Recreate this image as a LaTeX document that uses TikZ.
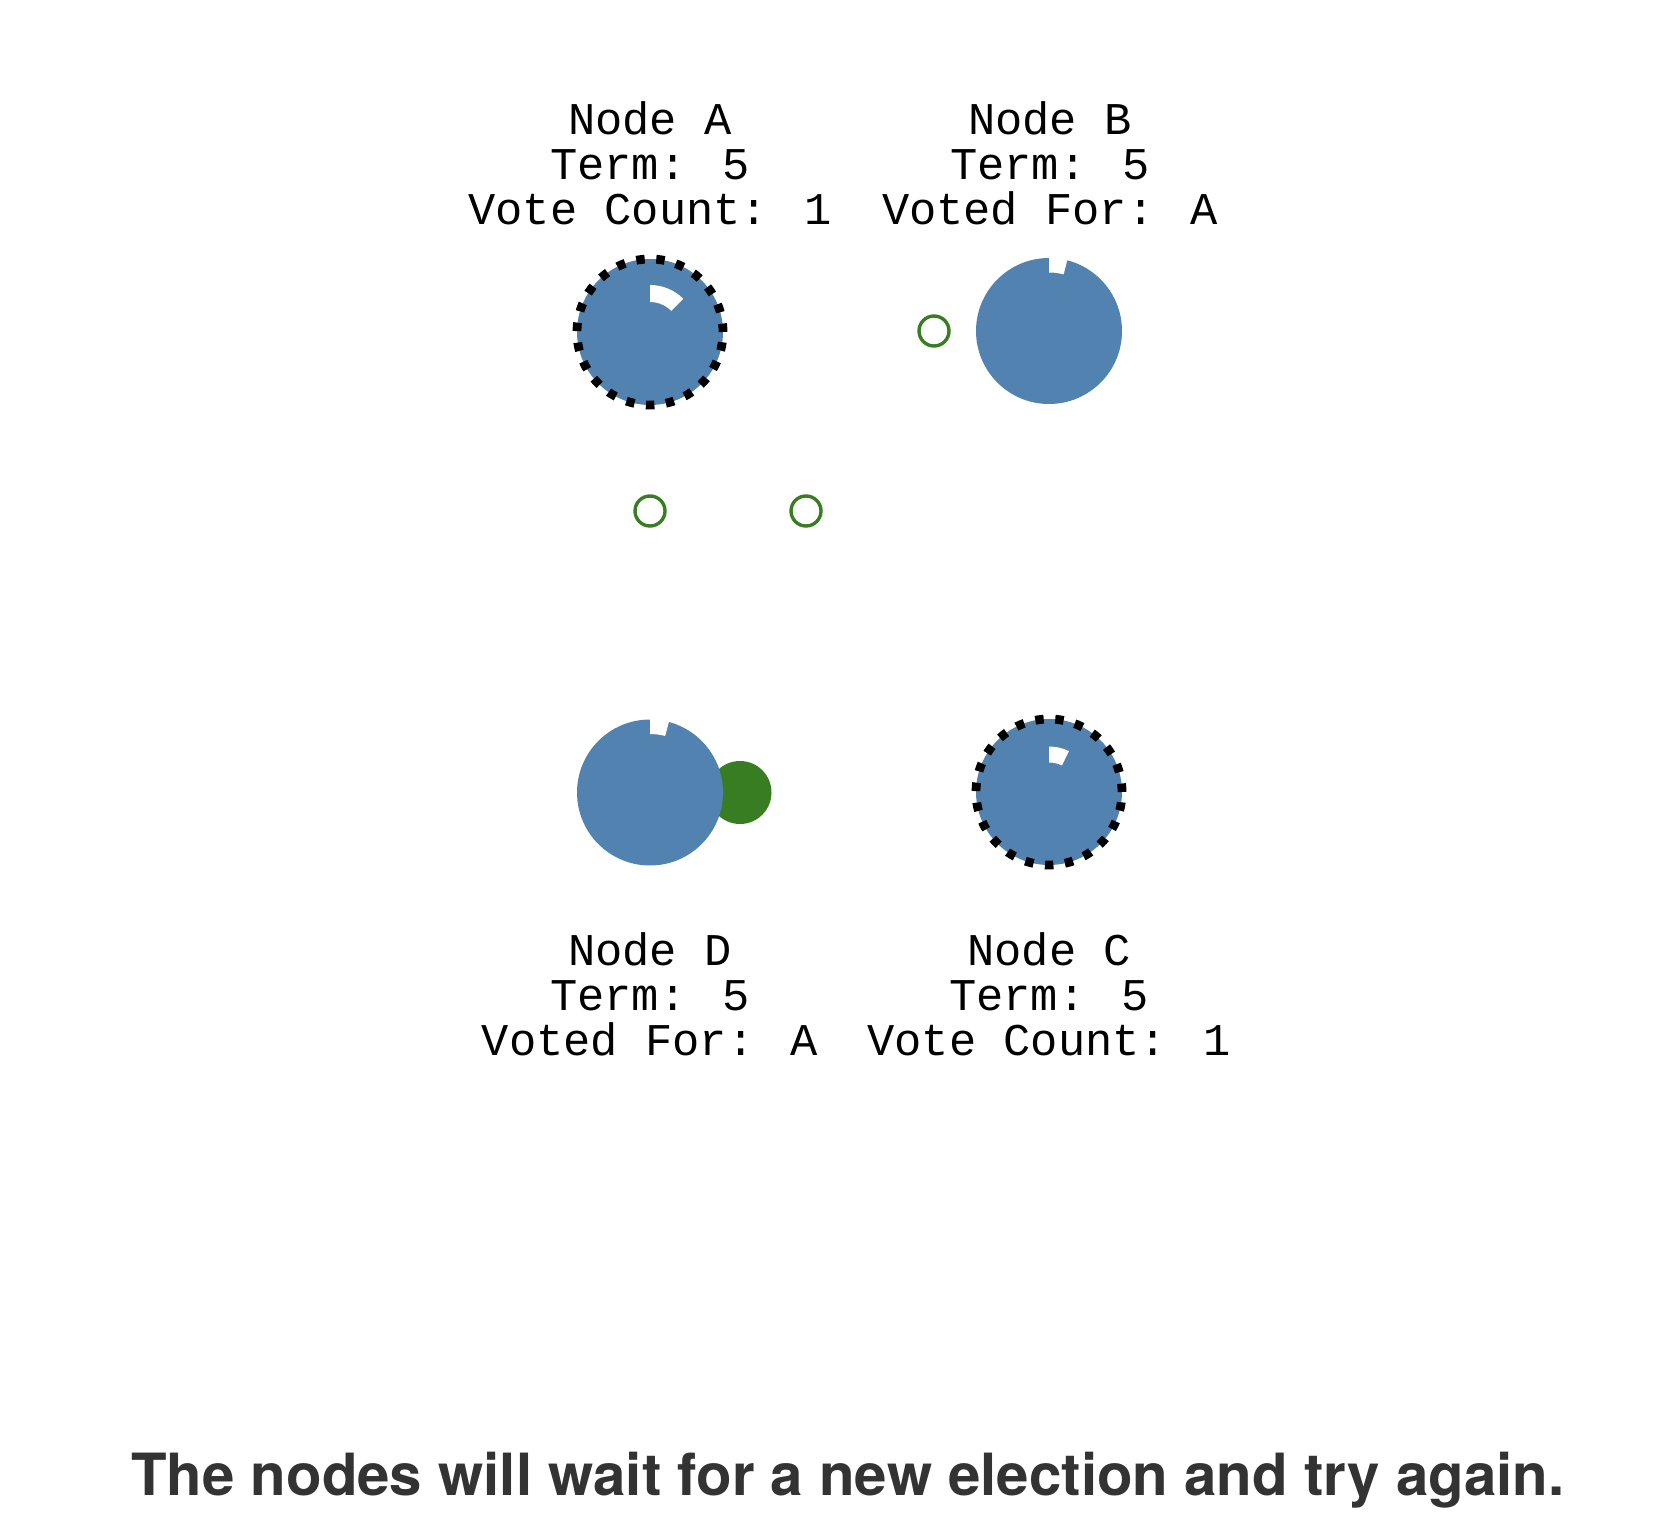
\documentclass[tikz,border=0pt]{standalone}
\usepackage{fontspec}
\usetikzlibrary{calc}
\newfontfamily\labelfont{Liberation Mono}
\newfontfamily\capfont{TeX Gyre Heros}
\definecolor{nodeblue}{HTML}{5282B0}
\definecolor{votegreen}{HTML}{387D22}
\definecolor{captiongrey}{HTML}{333333}
\tikzset{
  server/.style={circle, fill=nodeblue, minimum size=73pt, inner sep=0pt, draw=none},
  candidate/.style={server, draw=black, line width=4.4pt, dash pattern=on 4.2pt off 5.8pt},
  vote/.style={circle, draw=votegreen, line width=1.7pt, minimum size=15pt, inner sep=0pt},
  votefill/.style={circle, fill=votegreen, minimum size=31.5pt, inner sep=0pt},
  timer/.style={fill=white},
  label/.style={align=center, font=\labelfont\fontsize{22.7}{22.5}\selectfont, inner sep=0pt},
  caption/.style={font=\capfont\bfseries\fontsize{29.1}{34}\selectfont, text=captiongrey, inner sep=0pt}
}
\begin{document}
\begin{tikzpicture}[x=0.5pt,y=-0.5pt]
\useasboundingbox (0,0) rectangle (1680,1534);
% D's incoming vote (behind D)
\node[votefill] (vD) at (740,792.5) {};
% servers
\node[candidate] (A) at (650,332) {};
\node[server] (B) at (1049,331) {};
\node[server] (D) at (650,792.5) {};
\node[candidate] (C) at (1049,792) {};
% timers
\fill[timer] ($(A)+(-90:30)$) -- ($(A)+(-90:47)$) arc[start angle=-90,end angle=-45,radius=47] -- ($(A)+(-45:30)$) arc[start angle=-45,end angle=-90,radius=30] -- cycle;
\fill[timer] ($(C)+(-90:29.5)$) -- ($(C)+(-90:45.5)$) arc[start angle=-90,end angle=-64,radius=45.5] -- ($(C)+(-64:29.5)$) arc[start angle=-64,end angle=-90,radius=29.5] -- cycle;
\fill[timer] ($(B)+(-90:58.5)$) -- ($(B)+(-90:76)$) arc[start angle=-90,end angle=-75.5,radius=76] -- ($(B)+(-75.5:58.5)$) arc[start angle=-75.5,end angle=-90,radius=58.5] -- cycle;
\fill[timer] ($(D)+(-90:58.5)$) -- ($(D)+(-90:76)$) arc[start angle=-90,end angle=-75,radius=76] -- ($(D)+(-75:58.5)$) arc[start angle=-75,end angle=-90,radius=58.5] -- cycle;
% votes in flight
\node[vote] (vB) at (934,331) {};
\node[vote] (v1) at (650,511) {};
\node[vote] (v2) at (806,511) {};
% labels (base = baseline of last line)
\node[label, anchor=base] (lA) at (650,225) {Node A\\Term: 5\\Vote Count: 1};
\node[label, anchor=base] (lB) at (1050,225) {Node B\\Term: 5\\Voted For: A};
\node[label, anchor=base] (lD) at (650,1055) {Node D\\Term: 5\\Voted For: A};
\node[label, anchor=base] (lC) at (1049,1055) {Node C\\Term: 5\\Vote Count: 1};
\node[caption, anchor=base] (cap) at (848,1495) {The nodes will wait for a new election and try again.};
\end{tikzpicture}
\end{document}
